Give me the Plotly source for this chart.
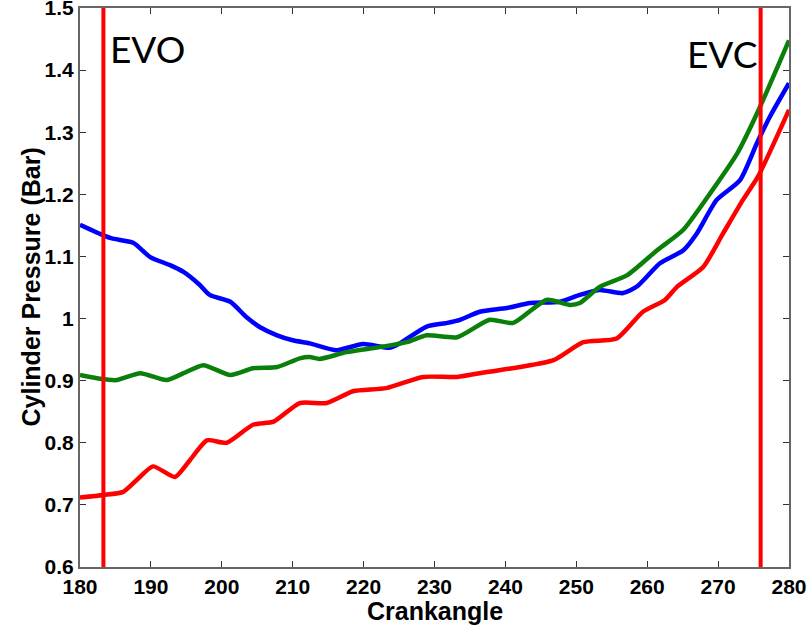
import plotly.graph_objects as go

# ---- data ----
blue_x = [180, 183.3, 184.5, 187.5, 189.9, 192.7, 194.6, 196.9, 198.3, 201.2, 203.5, 205.4, 207.8, 210,
          212.4, 216.2, 219.9, 223.7, 225.1, 228.9, 231.8, 233.6, 236.4, 240.2, 243.5, 247.7, 250.5,
          253.3, 256.6, 258.6, 261.8, 265.1, 267, 269.8, 273.1, 275.5, 277.3, 280]
blue_y = [1.151, 1.134, 1.129, 1.122, 1.099, 1.086, 1.075, 1.054, 1.038, 1.027, 1.002, 0.986, 0.973, 0.965,
          0.960, 0.949, 0.959, 0.953, 0.960, 0.987, 0.993, 0.998, 1.011, 1.017, 1.025, 1.027, 1.038,
          1.046, 1.041, 1.052, 1.089, 1.110, 1.137, 1.191, 1.223, 1.283, 1.325, 1.379]

green_x = [180, 182.8, 185.2, 188.5, 192.2, 194.6, 197.4, 201.2, 204.4, 207.8, 211, 212.4, 213.8, 217.6,
           222.3, 226.1, 228.9, 233.2, 237.8, 241.1, 245.8, 249.1, 250.5, 253.3, 257.2, 261.4, 265.1,
           268.9, 272.7, 275.6, 280]
green_y = [0.909, 0.903, 0.901, 0.912, 0.901, 0.912, 0.925, 0.909, 0.920, 0.922, 0.936, 0.938, 0.935, 0.946,
           0.954, 0.962, 0.973, 0.970, 0.998, 0.993, 1.030, 1.022, 1.025, 1.051, 1.070, 1.110, 1.143,
           1.202, 1.266, 1.333, 1.448]

red_x = [180, 183.3, 186.1, 188, 190.3, 193.4, 195.5, 197.9, 200.7, 204.4, 207.3, 211, 214.8, 218.5,
         223.2, 228.4, 233.2, 237.4, 242.1, 246.8, 251, 255.7, 259.4, 262.5, 264.2, 267.9, 270.7,
         273.5, 275.6, 280]
red_y = [0.712, 0.716, 0.721, 0.740, 0.762, 0.745, 0.772, 0.804, 0.800, 0.829, 0.834, 0.864, 0.864, 0.883,
         0.888, 0.906, 0.906, 0.914, 0.922, 0.933, 0.962, 0.968, 1.011, 1.030, 1.051, 1.083, 1.137,
         1.191, 1.228, 1.336]

evo_angle = 183.3
evc_angle = 276.0
x_ticks = [180, 190, 200, 210, 220, 230, 240, 250, 260, 270, 280]
y_ticks = [0.6, 0.7, 0.8, 0.9, 1.0, 1.1, 1.2, 1.3, 1.4, 1.5]
y_tick_text = ["0.6", "0.7", "0.8", "0.9", "1", "1.1", "1.2", "1.3", "1.4", "1.5"]

fig = go.Figure()
for xs, ys, col in [(blue_x, blue_y, "#0000FF"), (green_x, green_y, "#0A800A"), (red_x, red_y, "#FF0000")]:
    fig.add_trace(go.Scatter(x=xs, y=ys, mode="lines",
                             line=dict(color=col, width=4.5, shape="spline", smoothing=0.6),
                             showlegend=False, hoverinfo="skip"))

for a in [evo_angle, evc_angle]:
    fig.add_trace(go.Scatter(x=[a, a], y=[0.6, 1.5], mode="lines",
                             line=dict(color="#FF0000", width=4), showlegend=False, hoverinfo="skip"))

tickfont = dict(family="Liberation Sans, Arial", size=21, color="#000000", weight="bold")
fig.update_xaxes(range=[180, 280], tickvals=x_ticks, ticks="inside", ticklen=6, tickwidth=1,
                 tickcolor="#333333", showline=True, linecolor="#666666", linewidth=2, mirror="ticks",
                 showgrid=False, zeroline=False, tickfont=tickfont, ticklabeloverflow="allow",
                 automargin=False)
fig.update_yaxes(range=[0.6, 1.5], tickvals=y_ticks, ticktext=y_tick_text, ticks="inside", ticklen=6,
                 tickwidth=1, tickcolor="#333333", showline=True, linecolor="#666666", linewidth=2,
                 mirror="ticks", showgrid=False, zeroline=False, tickfont=tickfont, ticklabeloverflow="allow",
                 automargin=False)

label_font = dict(family="Lato, Open Sans, sans-serif", size=37, color="#000000")
fig.add_annotation(x=183.9, y=1.435, xref="x", yref="y", text="EVO", showarrow=False,
                   xanchor="left", yanchor="middle", font=label_font)
fig.add_annotation(x=265.3, y=1.427, xref="x", yref="y", text="EVC", showarrow=False,
                   xanchor="left", yanchor="middle", font=label_font)

title_font = dict(family="Liberation Sans, Arial", size=25, color="#000000")
fig.add_annotation(x=0.5, y=-0.0787, xref="paper", yref="paper", text="<b>Crankangle</b>",
                   showarrow=False, xanchor="center", yanchor="middle", font=title_font)
fig.add_annotation(x=-50 / 709, y=0.5, xref="paper", yref="paper", text="<b>Cylinder Pressure (Bar)</b>",
                   showarrow=False, xanchor="center", yanchor="middle", textangle=-90, font=title_font)

fig.update_layout(width=809, height=634, margin=dict(l=80, r=20, t=8, b=67, autoexpand=False),
                  paper_bgcolor="white", plot_bgcolor="white")

fig.write_html("out.html")
